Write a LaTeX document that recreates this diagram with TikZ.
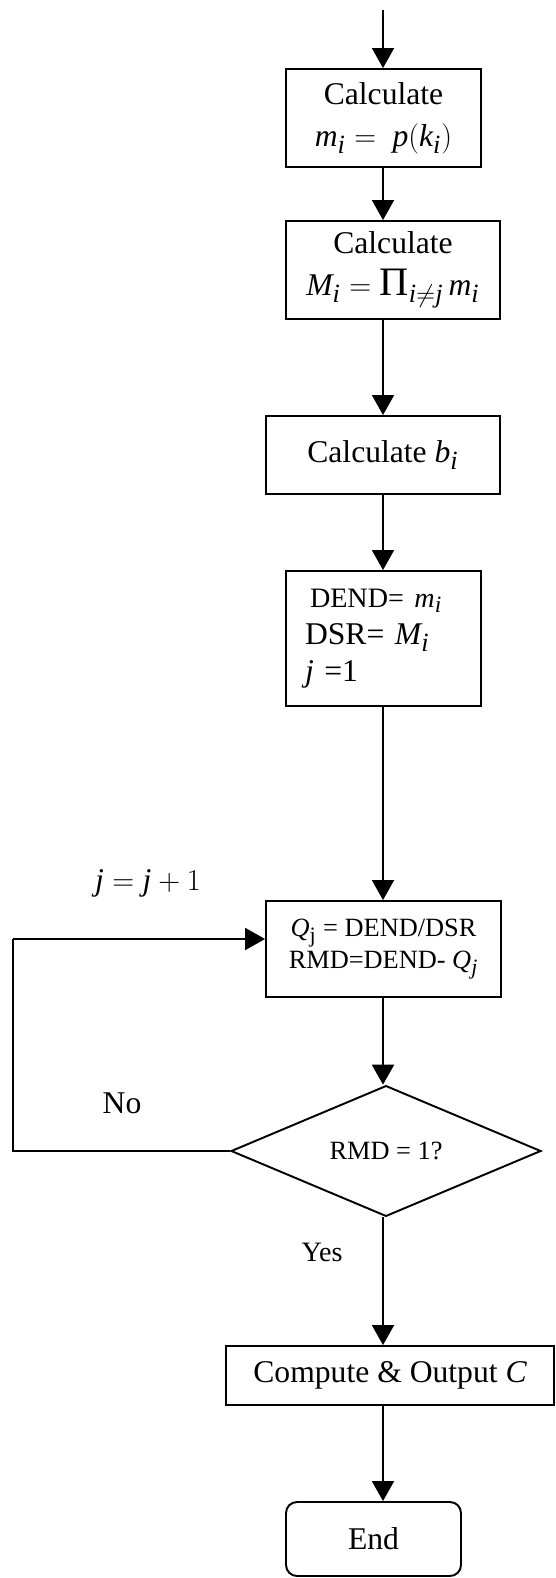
\documentclass[tikz,border=0pt]{standalone}
\usepackage{fontspec}
\setmainfont{Liberation Serif}
\usepackage[italic]{mathastext}
\usepackage{tikz}
\usetikzlibrary{shapes.geometric,arrows.meta}

\newcommand{\bigprod}{\mathop{\hbox{\fontsize{23}{23}\selectfont Π}}\nolimits}

\tikzset{
  procbox/.style={draw,line width=1.1pt,inner sep=0pt,align=center},
  decbox/.style={draw,diamond,line width=1.1pt,inner sep=0pt,minimum width=6.2cm,minimum height=2.28cm},
  flow/.style={line width=1.1pt,-{Triangle[width=0.44cm,length=0.4cm]}},
  line/.style={line width=1.1pt}
}

\begin{document}
\begin{tikzpicture}[x=0.02cm,y=-0.02cm,font=\fontsize{18}{24}\selectfont]
	\useasboundingbox (0,0) rectangle (555,1578);
	\coordinate (IN) at (383,10);
	\node[procbox,minimum width=3.9cm,minimum height=1.96cm] (CalcM1) at (383.5,118) {Calculate\\ $m_i = \ p(k_i)$};
	\node[procbox,minimum width=4.28cm,minimum height=1.96cm] (CalcM2) at (393,270) {Calculate\\ $M_i = \bigprod_{i\neq j} m_i$};
	\node[procbox,minimum width=4.68cm,minimum height=1.56cm] (CalcB) at (383,455) {Calculate $b_i$};
	\node[procbox,align=left,text width=3.14cm,inner xsep=0.38cm,minimum height=2.7cm,font=\fontsize{18}{21}\selectfont] (Init) at (383.5,638.5)
	     {\hspace*{0.1cm}{\fontsize{16}{21}\selectfont DEND= $m_i$}\\ DSR= $M_i$\\ $j$ =1};
	\node[procbox,minimum width=4.7cm,minimum height=1.92cm,font=\fontsize{15}{18}\selectfont] (Quot) at (383.5,949)
	     {$Q_{\mathrm{j}}$ = DEND/DSR\\ RMD=DEND- $Q_j$};
	\node[decbox,font=\fontsize{15}{18}\selectfont] (Test) at (386,1151) {RMD = 1?};
	\node[procbox,minimum width=6.56cm,minimum height=1.18cm] (Out) at (390,1375.5) {Compute \& Output $C$};
	\node[procbox,rounded corners=0.22cm,minimum width=3.5cm,minimum height=1.48cm] (Stop) at (373.5,1539) {End};
	\coordinate (Loop) at (13,939);
	\node (Inc) at (148,883) {$j = j+1$};
	\node (No) at (122,1103) {No};
	\node[font=\fontsize{16}{20}\selectfont] (Yes) at (322,1252) {Yes};
	\draw[flow] (IN) -- (IN |- CalcM1.north);
	\draw[flow] (IN |- CalcM1.south) -- (IN |- CalcM2.north);
	\draw[flow] (IN |- CalcM2.south) -- (IN |- CalcB.north);
	\draw[flow] (IN |- CalcB.south) -- (IN |- Init.north);
	\draw[flow] (IN |- Init.south) -- (IN |- Quot.north);
	\draw[flow] (IN |- Quot.south) -- (IN |- Test.north);
	\draw[flow] (IN |- Test.south) -- (IN |- Out.north);
	\draw[flow] (IN |- Out.south) -- (IN |- Stop.north);
	\draw[line] (Test.west) -| (Loop);
	\draw[flow] (Loop) -- (Loop -| Quot.west);
\end{tikzpicture}
\end{document}
